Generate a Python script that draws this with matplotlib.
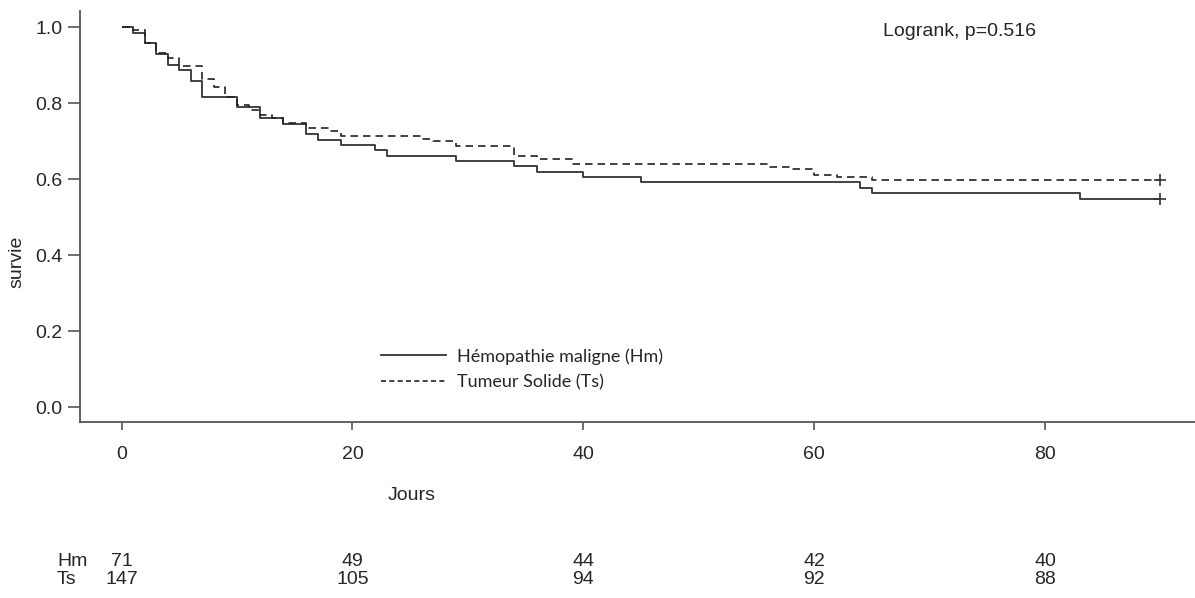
import matplotlib
matplotlib.use("Agg")
import matplotlib.pyplot as plt
from matplotlib.lines import Line2D
from matplotlib.transforms import blended_transform_factory

# Courbes de Kaplan-Meier
hm_jours = [0, 1, 2, 3, 4, 5, 6, 7, 10, 12, 14, 16, 17, 19, 22, 23, 29, 34, 36, 40, 45, 64, 65, 83]
hm_survie = [1.000, 0.986, 0.958, 0.930, 0.901, 0.887, 0.859, 0.817, 0.789, 0.761, 0.746, 0.718,
             0.704, 0.690, 0.676, 0.662, 0.648, 0.634, 0.620, 0.606, 0.592, 0.577, 0.563, 0.549]

ts_jours = [0, 1, 2, 3, 4, 5, 7, 8, 9, 10, 11, 12, 13, 14, 16, 18, 19, 26, 27, 29, 34, 36, 39,
            56, 58, 60, 62, 65]
ts_survie = [1.000, 0.993, 0.959, 0.932, 0.918, 0.898, 0.864, 0.844, 0.816, 0.796, 0.782, 0.769,
             0.762, 0.748, 0.735, 0.728, 0.714, 0.707, 0.701, 0.687, 0.660, 0.653, 0.639,
             0.633, 0.626, 0.612, 0.605, 0.599]

fin_suivi = 90

# Nombre de sujets à risque
risque_jours = [0, 20, 40, 60, 80]
risque_hm = [71, 49, 44, 42, 40]
risque_ts = [147, 105, 94, 92, 88]

x_ticks = [0, 20, 40, 60, 80]
y_ticks = [0.0, 0.2, 0.4, 0.6, 0.8, 1.0]

plt.rcParams['font.family'] = ['Liberation Sans', 'DejaVu Sans']
texte = '#262626'
trait = '#333333'

W, H = 1195, 598
fig = plt.figure(figsize=(W / 100, H / 100), dpi=100)
ax = fig.add_axes([80 / W, 1 - 422 / H, 1 - 80 / W, (422 - 11) / H])

# Courbes
ax.step(hm_jours + [fin_suivi], hm_survie + [hm_survie[-1]], where='post',
        color=trait, lw=1.3, solid_capstyle='butt')
ax.step(ts_jours + [fin_suivi], ts_survie + [ts_survie[-1]], where='post',
        color='#222222', lw=1.2, linestyle=(0, (4.5, 3)))
# Censures en fin de suivi
ax.plot([fin_suivi], [hm_survie[-1]], marker='+', ms=9, mew=1.2, color=trait, ls='none')
ax.plot([fin_suivi], [ts_survie[-1]], marker='+', ms=9, mew=1.2, color=trait, ls='none')

ax.set_xlim(-3.6, 93.0)
ax.set_ylim(-0.039, 1.043)
ax.set_xticks(x_ticks)
ax.set_yticks(y_ticks)
ax.set_yticklabels([f'{v:.1f}' for v in y_ticks])

for s in ['top', 'right']:
    ax.spines[s].set_visible(False)
for s in ['left', 'bottom']:
    ax.spines[s].set_color('#555555')
    ax.spines[s].set_linewidth(1.3)

ax.tick_params(axis='x', length=6, width=1.2, color='#555555', pad=11,
               labelsize=14, labelcolor=texte)
ax.tick_params(axis='y', length=8.5, width=1.2, color='#555555', pad=4,
               labelsize=14, labelcolor=texte)

# Texte
fig.text(883 / W, 1 - 31 / H, 'Logrank, p=0.516', fontsize=14,
         color=texte, ha='left', va='center')
fig.text(412 / W, 1 - 496 / H, 'Jours', fontsize=14, color=texte, ha='center', va='center')
fig.text(17 / W, 1 - 262 / H, 'survie', fontsize=14, color=texte, ha='center', va='center',
         rotation=90)

# Légende
poignees = [Line2D([], [], color=trait, lw=1.3),
            Line2D([], [], color='#222222', lw=1.2, linestyle=(0, (3, 2)))]
ax.legend(poignees, ['Hémopathie maligne (Hm)', 'Tumeur Solide (Ts)'],
          loc='upper left', bbox_to_anchor=(381 / W, 1 - 348 / H), bbox_transform=fig.transFigure,
          frameon=False, borderpad=0, borderaxespad=0, handlelength=3.6, handletextpad=0.6,
          labelspacing=0.55, prop={'family': ['Lato', 'DejaVu Sans'], 'size': 13},
          labelcolor=texte)

# Tableau des sujets à risque
trans = blended_transform_factory(ax.transData, fig.transFigure)
fig.text(57 / W, 1 - 562 / H, 'Hm', fontsize=14, color=texte, ha='left', va='center')
fig.text(57 / W, 1 - 580 / H, 'Ts', fontsize=14, color=texte, ha='left', va='center')
for j, n in zip(risque_jours, risque_hm):
    ax.text(j, 1 - 562 / H, str(n), transform=trans, fontsize=14, color=texte,
            ha='center', va='center', clip_on=False)
for j, n in zip(risque_jours, risque_ts):
    ax.text(j, 1 - 580 / H, str(n), transform=trans, fontsize=14, color=texte,
            ha='center', va='center', clip_on=False)

fig.savefig('out.png', dpi=100)
